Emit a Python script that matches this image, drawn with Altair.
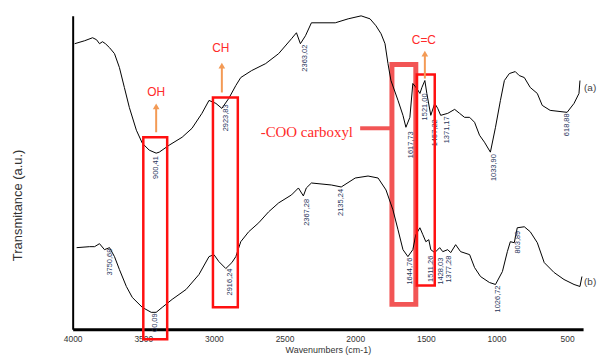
import altair as alt
import pandas as pd

# ---------------- data ----------------
upper_wn = [3986, 3915, 3859, 3831, 3810, 3789, 3768, 3739, 3704, 3669, 3634, 3599, 3549, 3507,
            3458, 3409, 3387, 3317, 3225, 3155, 3085, 3035, 2986, 2944, 2895, 2845, 2810, 2733,
            2634, 2542, 2451, 2416, 2388, 2352, 2310, 2141, 2050, 1958, 1895, 1853, 1817, 1789,
            1768, 1747, 1697, 1662, 1641, 1613, 1592, 1564, 1542, 1528, 1507, 1493, 1465, 1437,
            1416, 1395, 1345, 1296, 1261, 1226, 1190, 1155, 1120, 1085, 1043, 1007, 972, 944,
            909, 867, 839, 803, 761, 711, 676, 620, 500, 451, 416, 409]
upper_t = [287, 290, 293, 291, 287, 289, 287, 283, 277, 263, 243, 223, 200, 187,
           180, 177, 178, 185, 193, 202, 217, 230, 227, 222, 232, 245, 253, 260,
           267, 277, 292, 298, 287, 295, 308, 308, 312, 315, 312, 305, 297, 287,
           267, 250, 230, 215, 203, 213, 247, 242, 237, 243, 250, 237, 215, 227,
           222, 215, 217, 221, 217, 213, 213, 208, 195, 188, 178, 203, 230, 250,
           257, 259, 255, 253, 243, 237, 225, 220, 218, 227, 237, 250]

lower_wn = [3972, 3880, 3845, 3810, 3775, 3739, 3704, 3669, 3620, 3578, 3507, 3444, 3409, 3366,
            3296, 3197, 3106, 3035, 3000, 2965, 2916, 2873, 2845, 2810, 2754, 2683, 2613, 2542,
            2451, 2402, 2367, 2346, 2310, 2169, 2099, 2000, 1909, 1838, 1782, 1733, 1697, 1662,
            1627, 1592, 1571, 1542, 1521, 1500, 1479, 1465, 1437, 1402, 1380, 1345, 1324, 1289,
            1254, 1190, 1155, 1113, 1050, 1007, 958, 923, 902, 874, 853, 803, 761, 711,
            662, 592, 522, 451, 409, 395]
lower_t = [82, 83, 83, 86, 80, 82, 73, 60, 43, 32, 22, 17, 17, 22,
           30, 40, 55, 73, 75, 68, 61, 67, 73, 88, 98, 107, 118, 127,
           135, 142, 134, 142, 147, 145, 143, 152, 154, 152, 140, 120, 100, 80,
           73, 80, 95, 102, 95, 88, 90, 80, 77, 82, 78, 80, 77, 85,
           78, 75, 62, 53, 47, 45, 58, 78, 88, 87, 102, 103, 98, 87,
           67, 57, 50, 45, 43, 53]

# peak labels: text, wavenumber position, top of label
peak_text = ["900,41", "2923,83", "2363,02", "1617,73", "1521,00", "1457,22", "1371,17", "1033,90", "618,88",
             "3750,68", "00,09", "2916,24", "2367,28", "2135,24", "1644,76", "1511,26", "1428,03", "1377,28",
             "1026,72", "803,89"]
peak_wn = [3409, 2915, 2352, 1606, 1507, 1437, 1352, 1014, 500,
           3739, 3415, 2889, 2338, 2099, 1613, 1465, 1395, 1338, 986, 845]
peak_t = [175, 227, 287, 200, 238, 212, 215, 177, 218,
          82, 17, 62, 132, 142, 73, 75, 73, 75, 45, 100]

# highlight boxes
box_x1 = [3500, 3007, 1740, 1564]
box_x2 = [3331, 2831, 1571, 1437]
box_y1 = [193, 233, 266, 256]
box_y2 = [-10, 22, 25, 44]
box_kind = ["thin", "thin", "thick", "thin"]

# group labels and arrows
grp_text = ["OH", "CH", "C=C"]
grp_wn = [3409, 2951, 1514]
grp_t = [238, 283, 291]
arrow_wn = [3409, 2944, 1507]
arrow_t0 = [198, 238, 252]
arrow_t1 = [224, 265, 277]

series_text = ["(a)", "(b)"]
series_wn = [380, 380]
series_t = [242, 47]

x_ticks = [4000, 3500, 3000, 2500, 2000, 1500, 1000, 500]

# ---------------- chart ----------------
XDOM = [4000, 387]
YDOM = [0, 315]
xs = alt.Scale(domain=XDOM, nice=False, zero=False)
ys = alt.Scale(domain=YDOM, nice=False, zero=False)

up = pd.DataFrame({"wn": upper_wn, "t": upper_t, "i": range(len(upper_wn))})
lo = pd.DataFrame({"wn": lower_wn, "t": lower_t, "i": range(len(lower_wn))})

x_axis = alt.Axis(title="Wavenumbers (cm-1)", values=x_ticks, format="d", ticks=False, grid=False,
                  domainColor="black", domainWidth=3, labelFontSize=8.5, labelColor="#333333",
                  labelPadding=5, labelFlush=False, labelFont="Liberation Sans",
                  titleFont="Liberation Sans", titleFontSize=9, titleFontWeight="normal",
                  titleColor="#333333", titlePadding=3)
y_axis = alt.Axis(title="Transmitance (a.u.)", labels=False, ticks=False, grid=False,
                  domainColor="black", domainWidth=2, titleFont="Liberation Sans",
                  titleFontSize=13, titleFontWeight="normal", titleColor="#333333",
                  titleX=-55, titleY=190, titleAngle=270, titleAlign="center",
                  titleBaseline="middle")

line_up = alt.Chart(up).mark_line(color="black", strokeWidth=1).encode(
    x=alt.X("wn:Q", scale=xs, axis=x_axis),
    y=alt.Y("t:Q", scale=ys, axis=y_axis),
    order="i:O")
line_lo = alt.Chart(lo).mark_line(color="black", strokeWidth=1).encode(
    x=alt.X("wn:Q", scale=xs), y=alt.Y("t:Q", scale=ys), order="i:O")

pk = pd.DataFrame({"txt": peak_text, "wn": peak_wn, "t": peak_t})
peaks = alt.Chart(pk).mark_text(angle=270, align="right", baseline="middle", fontSize=7.5,
                                font="Liberation Sans", color="#27345a", dx=-1).encode(
    x=alt.X("wn:Q", scale=xs), y=alt.Y("t:Q", scale=ys), text="txt:N")

bx = pd.DataFrame({"x1": box_x1, "x2": box_x2, "y1": box_y1, "y2": box_y2, "k": box_kind})
boxes_thin = alt.Chart(bx).transform_filter(alt.datum.k == "thin").mark_rect(
    fillOpacity=0, stroke="#ff1010", strokeWidth=2.5).encode(
    x=alt.X("x1:Q", scale=xs), x2="x2:Q", y=alt.Y("y1:Q", scale=ys), y2="y2:Q")
boxes_thick = alt.Chart(bx).transform_filter(alt.datum.k == "thick").mark_rect(
    fillOpacity=0, stroke="#f25555", strokeWidth=5).encode(
    x=alt.X("x1:Q", scale=xs), x2="x2:Q", y=alt.Y("y1:Q", scale=ys), y2="y2:Q")

conn = pd.DataFrame({"x1": [1965], "x2": [1740], "t": [202]})
connector = alt.Chart(conn).mark_rule(color="#f25555", strokeWidth=4).encode(
    x=alt.X("x1:Q", scale=xs), x2="x2:Q", y=alt.Y("t:Q", scale=ys))

coo = pd.DataFrame({"txt": ["-COO carboxyl"], "wn": [2669], "t": [198]})
coo_text = alt.Chart(coo).mark_text(align="left", baseline="middle", fontSize=15,
                                    font="Liberation Serif", color="#ff2a2a").encode(
    x=alt.X("wn:Q", scale=xs), y=alt.Y("t:Q", scale=ys), text="txt:N")

gp = pd.DataFrame({"txt": grp_text, "wn": grp_wn, "t": grp_t})
grp = alt.Chart(gp).mark_text(align="center", baseline="middle", fontSize=12,
                              font="Liberation Sans", color="#ff2a2a").encode(
    x=alt.X("wn:Q", scale=xs), y=alt.Y("t:Q", scale=ys), text="txt:N")

ar = pd.DataFrame({"wn": arrow_wn, "t0": arrow_t0, "t1": arrow_t1})
arrow_shaft = alt.Chart(ar).mark_rule(color="#f39a55", strokeWidth=2).encode(
    x=alt.X("wn:Q", scale=xs), y=alt.Y("t0:Q", scale=ys), y2="t1:Q")
arrow_head = alt.Chart(ar).mark_point(shape="triangle-up", filled=True, size=45,
                                      color="#f39a55", opacity=1).encode(
    x=alt.X("wn:Q", scale=xs), y=alt.Y("t1:Q", scale=ys))

sr = pd.DataFrame({"txt": series_text, "wn": series_wn, "t": series_t})
series = alt.Chart(sr).mark_text(align="left", baseline="middle", fontSize=10,
                                 font="Liberation Sans", color="#444444").encode(
    x=alt.X("wn:Q", scale=xs), y=alt.Y("t:Q", scale=ys), text="txt:N")

chart = alt.layer(
    boxes_thick, connector, line_up, line_lo, peaks, boxes_thin, coo_text, grp,
    arrow_shaft, arrow_head, series
).properties(
    width=513, height=315,
    autosize=alt.AutoSizeParams(type="none"),
    padding={"left": 65, "top": 7, "right": 14, "bottom": 26},
    background="white"
).configure_view(stroke=None)

chart.save("out.html", embed_options={"renderer": "svg", "actions": False})
